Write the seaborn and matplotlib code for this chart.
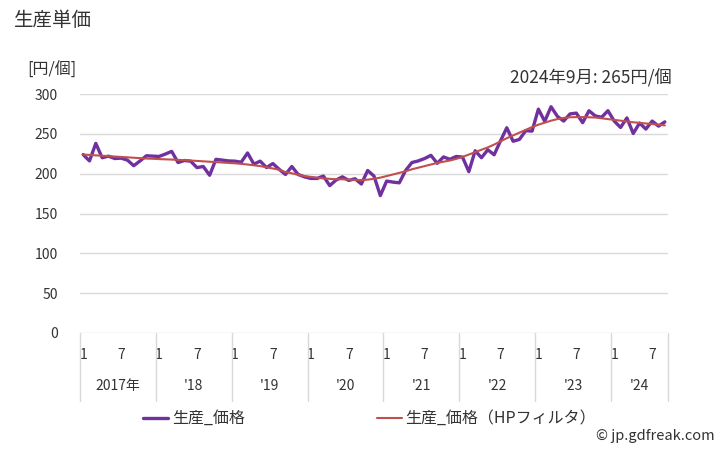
import matplotlib
matplotlib.use("Agg")
import matplotlib.pyplot as plt
import matplotlib.transforms as mtransforms
from matplotlib.lines import Line2D
import seaborn as sns
import pandas as pd
import numpy as np

# ---- data (monthly, Jan 2017 .. Sep 2024) ----
price = [
    224, 216, 238, 220, 222, 219, 219.5, 217, 210, 216, 222.5, 222,      # 2017
    221.6, 224.6, 228, 214, 216.5, 215.7, 207.6, 209, 198, 218, 217, 216, # 2018
    215.7, 214.4, 226, 212, 215.7, 207.6, 212.7, 205.5, 199, 209, 199, 196, # 2019
    194, 194, 197, 185, 192, 196, 191.5, 193.6, 187, 204, 197, 172.5,     # 2020
    190.7, 189.4, 188.5, 204, 214, 216, 219, 223, 213, 221, 218, 221.6,   # 2021
    220.8, 202.5, 228.8, 220, 230, 223.7, 241, 257.6, 240.7, 243, 254, 253.4, # 2022
    281, 265.7, 284, 272, 266, 275, 276, 264, 279, 272.5, 270.8, 279,     # 2023
    266, 258, 270, 250.4, 263.5, 256, 266, 259.7, 265,                    # 2024
]
trend = [
    224, 223.5, 223, 222.5, 222, 221.5, 221, 220.5, 220, 219.5, 219, 218.7,
    218.3, 218, 217.7, 217.3, 217, 216.5, 216, 215.5, 215, 214.5, 214, 213.5,
    213, 212.3, 211.5, 210.5, 209.5, 208, 206.5, 205, 202, 200.5, 198.5, 197,
    196, 195, 194, 193.5, 193, 193, 192.5, 192, 192, 192.5, 193.6, 195,
    197, 199, 201, 203, 205.5, 207.5, 209.5, 211.5, 213.5, 215, 216.5, 218.5,
    221, 224, 227, 230, 233, 236.5, 240.5, 244.5, 248, 251.5, 255, 258.5,
    261.5, 264, 266.5, 268.5, 270, 270.8, 271, 271, 270.8, 270.5, 269.5, 268.5,
    267.5, 266.5, 265.5, 264.5, 263.8, 263, 262.3, 261.5, 260.6,
]
year_labels = ["2017年", "'18", "'19", "'20", "'21", "'22", "'23", "'24"]
month_labels = ["1", "7"]
y_ticks = [0, 50, 100, 150, 200, 250, 300]

n = len(price)
df = pd.DataFrame({"idx": np.arange(n), "price": price, "trend": trend})

sns.set_theme(style="white")
plt.rcParams["font.family"] = ["Noto Sans CJK JP", "DejaVu Sans"]

PURPLE = "#7030A0"
RED = "#C0504D"
GRID = "#D9D9D9"

fig = plt.figure(figsize=(7.28, 4.5), dpi=100)
ax = fig.add_axes([80 / 728, 1 - 333 / 450, (668 - 80) / 728, (333 - 94) / 450])

sns.lineplot(data=df, x="idx", y="price", ax=ax, color=PURPLE, linewidth=2.4, zorder=3)
sns.lineplot(data=df, x="idx", y="trend", ax=ax, color=RED, linewidth=1.5, zorder=4)

ax.set_xlim(-0.5, n - 0.5)
ax.set_ylim(0, 300)
ax.set_yticks(y_ticks)
ax.set_yticklabels([str(v) for v in y_ticks], fontsize=10, color="#333333")
ax.tick_params(axis="y", length=0, pad=16)
for v in y_ticks:
    ax.axhline(v, color=GRID, linewidth=1, zorder=1)
for s in ax.spines.values():
    s.set_visible(False)
ax.set_xlabel("")
ax.set_ylabel("")

# x ticks: months 1 and 7
xt, xl = [], []
for y in range(len(year_labels)):
    for k, m in enumerate(month_labels):
        pos = y * 12 + k * 6
        if pos < n:
            xt.append(pos)
            xl.append(m)
ax.set_xticks(xt)
ax.set_xticklabels(xl, fontsize=10, color="#333333")
ax.tick_params(axis="x", length=0, pad=11)

trans = mtransforms.blended_transform_factory(ax.transData, ax.transAxes)
bounds = [y * 12 - 0.5 for y in range(len(year_labels))] + [n - 0.5]
for b in bounds:
    ax.plot([b, b], [0, -0.285], transform=trans, color=GRID, linewidth=1, clip_on=False)
for y, lab in enumerate(year_labels):
    lo = bounds[y]
    hi = bounds[y + 1]
    ax.text((lo + hi) / 2, -0.222, lab, transform=trans, ha="center", va="center",
            fontsize=10, color="#333333")

# texts
fig.text(14 / 728, 1 - 20 / 450, "生産単価", fontsize=14, ha="left", va="center", color="#333333")
fig.text(27 / 728, 1 - 70 / 450, "[円/個]", fontsize=11.5, ha="left", va="center", color="#333333")
fig.text(672 / 728, 1 - 78 / 450, "2024年9月: 265円/個", fontsize=12.5, ha="right", va="center",
         color="#333333")
fig.text(715 / 728, 1 - 436 / 450, "© jp.gdfreak.com", fontsize=10.5, ha="right", va="center",
         color="#333333")

# legend (manual)
ly = 1 - 418 / 450
fig.add_artist(Line2D([143 / 728, 168 / 728], [ly, ly], color=PURPLE, linewidth=2.4,
                      transform=fig.transFigure))
fig.text(172 / 728, ly, "生産_価格", fontsize=11.5, ha="left", va="center", color="#333333")
fig.add_artist(Line2D([377 / 728, 402 / 728], [ly, ly], color=RED, linewidth=1.5,
                      transform=fig.transFigure))
fig.text(405 / 728, ly, "生産_価格（HPフィルタ）", fontsize=11.5, ha="left", va="center",
         color="#333333")

fig.savefig("out.png", dpi=100)
